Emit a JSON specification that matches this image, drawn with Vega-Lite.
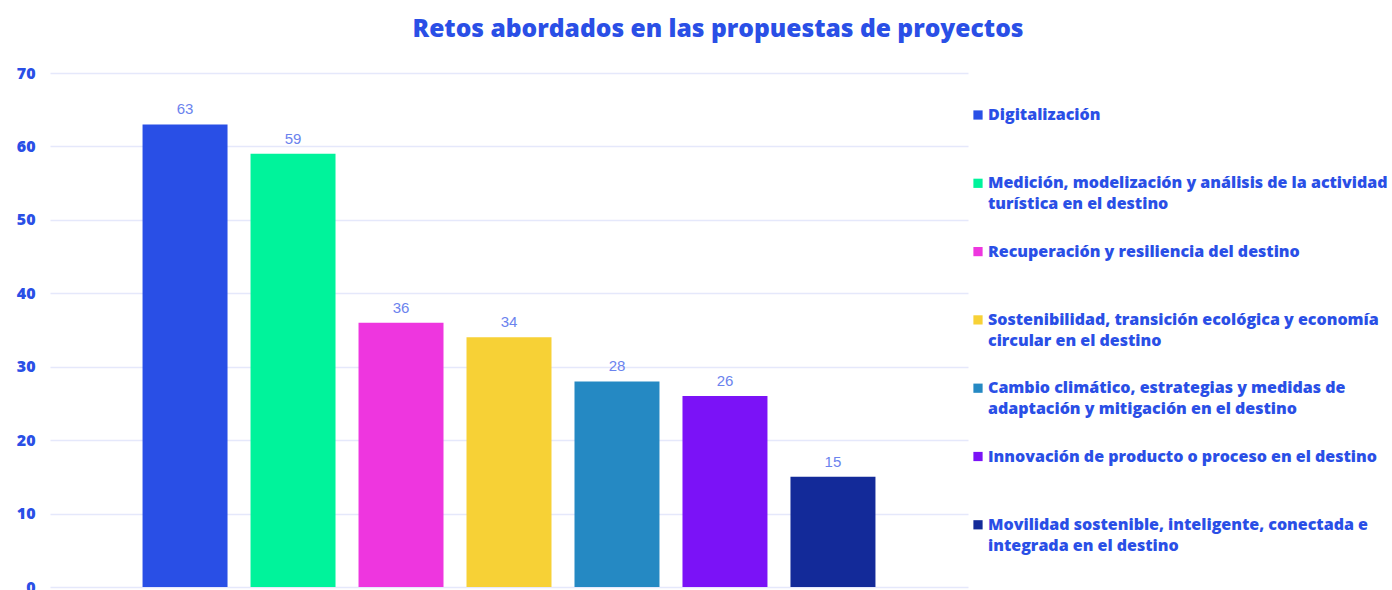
{
  "$schema": "https://vega.github.io/schema/vega-lite/v6.json",
  "autosize": {"type": "none"},
  "padding": {"left": 50, "top": 73, "right": 424, "bottom": 3},
  "width": 918,
  "height": 514,
  "background": "white",
  "config": {"view": {"stroke": null}},
  "title": {
    "text": "Retos abordados en las propuestas de proyectos",
    "font": "Open Sans",
    "fontSize": 24.6,
    "fontWeight": 800,
    "color": "#2A4FE6",
    "anchor": "middle",
    "frame": "group",
    "dx": 209,
    "baseline": "alphabetic",
    "offset": 3
  },
  "data": {
    "values": [
      {"reto": "Digitalización", "propuestas": 63},
      {"reto": "Medición, modelización y análisis de la actividad turística en el destino", "propuestas": 59},
      {"reto": "Recuperación y resiliencia del destino", "propuestas": 36},
      {"reto": "Sostenibilidad, transición ecológica y economía circular en el destino", "propuestas": 34},
      {"reto": "Cambio climático, estrategias y medidas de adaptación y mitigación en el destino", "propuestas": 28},
      {"reto": "Innovación de producto o proceso en el destino", "propuestas": 26},
      {"reto": "Movilidad sostenible, inteligente, conectada e integrada en el destino", "propuestas": 15}
    ]
  },
  "encoding": {
    "x": {
      "field": "reto",
      "type": "nominal",
      "sort": null,
      "axis": null,
      "scale": {"paddingInner": 0.213, "paddingOuter": 0.857}
    },
    "y": {
      "field": "propuestas",
      "type": "quantitative",
      "scale": {"domain": [0, 70]},
      "axis": {
        "title": null,
        "values": [0, 10, 20, 30, 40, 50, 60, 70],
        "domain": false,
        "ticks": false,
        "labelFont": "Open Sans",
        "labelFontSize": 16,
        "labelFontWeight": 800,
        "labelColor": "#2A4FE6",
        "labelPadding": 15,
        "gridColor": "#E5E8FB",
        "gridWidth": 1.5
      }
    }
  },
  "layer": [
    {
      "mark": {"type": "bar"},
      "encoding": {
        "color": {
          "field": "reto",
          "type": "nominal",
          "sort": null,
          "scale": {
            "domain": [
              "Digitalización",
              "Medición, modelización y análisis de la actividad turística en el destino",
              "Recuperación y resiliencia del destino",
              "Sostenibilidad, transición ecológica y economía circular en el destino",
              "Cambio climático, estrategias y medidas de adaptación y mitigación en el destino",
              "Innovación de producto o proceso en el destino",
              "Movilidad sostenible, inteligente, conectada e integrada en el destino"
            ],
            "range": ["#294FE6", "#00F39B", "#EE36DF", "#F7D136", "#2589C3", "#7B12F7", "#132A99"]
          },
          "legend": {
            "title": null,
            "orient": "none",
            "legendX": 920,
            "legendY": 34,
            "symbolType": "square",
            "symbolSize": 85,
            "symbolStrokeWidth": 0,
            "labelFont": "Open Sans",
            "labelFontSize": 16,
            "labelFontWeight": 800,
            "labelColor": "#2A4FE6",
            "labelLimit": 500,
            "labelOffset": 2,
            "labelBaseline": "top",
            "rowPadding": 31.3,
            "encode": {"labels": {"update": {"dy": {"value": -8}, "lineHeight": {"value": 21}}}},
            "labelExpr": "datum.label == 'Digitalización' ? ['Digitalización', ''] : datum.label == 'Recuperación y resiliencia del destino' ? ['Recuperación y resiliencia del destino', ''] : datum.label == 'Innovación de producto o proceso en el destino' ? ['Innovación de producto o proceso en el destino', ''] : datum.label == 'Medición, modelización y análisis de la actividad turística en el destino' ? ['Medición, modelización y análisis de la actividad', 'turística en el destino'] : datum.label == 'Sostenibilidad, transición ecológica y economía circular en el destino' ? ['Sostenibilidad, transición ecológica y economía', 'circular en el destino'] : datum.label == 'Cambio climático, estrategias y medidas de adaptación y mitigación en el destino' ? ['Cambio climático, estrategias y medidas de', 'adaptación y mitigación en el destino'] : ['Movilidad sostenible, inteligente, conectada e', 'integrada en el destino']"
          }
        }
      }
    },
    {
      "mark": {
        "type": "text",
        "baseline": "alphabetic",
        "dy": -10,
        "font": "Liberation Sans",
        "fontSize": 15,
        "color": "#6B83EE"
      },
      "encoding": {
        "text": {"field": "propuestas", "type": "quantitative"}
      }
    }
  ]
}
